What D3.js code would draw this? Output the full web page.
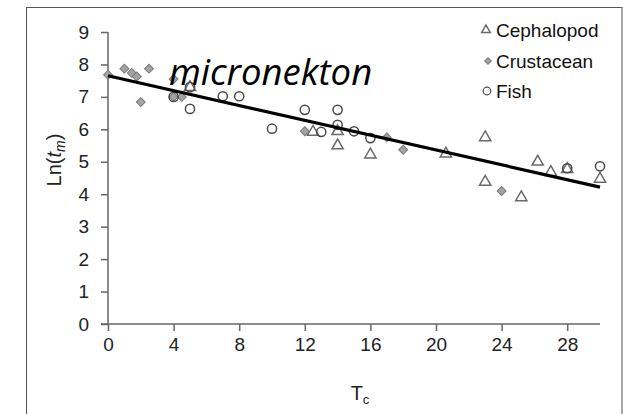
<!DOCTYPE html>
<html><head><meta charset="utf-8">
<script src="https://cdn.jsdelivr.net/npm/d3@7"></script>
<style>body{margin:0;background:#fff}svg{display:block}</style>
</head><body>
<script>
// ---- data ----
const cephX = [5.0, 12.5, 14, 14, 16, 20.6, 23, 23, 25.2, 26.2, 27, 28, 30];
const cephY = [7.3, 5.92, 5.94, 5.5, 5.22, 5.25, 5.75, 4.38, 3.9, 5.0, 4.68, 4.77, 4.47];
const crusX = [0, 1, 1.45, 1.75, 2.5, 2, 4, 4, 4.5, 12, 17, 18, 24];
const crusY = [7.68, 7.87, 7.74, 7.63, 7.87, 6.84, 7.55, 7.0, 7.0, 5.94, 5.75, 5.37, 4.1];
const fishX = [4, 5, 5, 7, 8, 10, 12, 13, 14, 14, 15, 16, 28, 30];
const fishY = [7.0, 7.3, 6.63, 7.02, 7.02, 6.02, 6.6, 5.92, 6.6, 6.14, 5.94, 5.73, 4.8, 4.86];
const fitX = [0, 30];
const fitY = [7.65, 4.22];
const xTicks = [0, 4, 8, 12, 16, 20, 24, 28];
const yTicks = [0, 1, 2, 3, 4, 5, 6, 7, 8, 9];
const seriesNames = ["Cephalopod", "Crustacean", "Fish"];

const W = 623, H = 414;
const svg = d3.select("body").append("svg").attr("width", W).attr("height", H);
const font = "'Liberation Sans', Arial, sans-serif";

// outer frame
svg.append("rect").attr("x", 26.5).attr("y", 7.5).attr("width", 595.5).attr("height", 420)
  .attr("fill", "none").attr("stroke", "#555").attr("stroke-width", 1);

const x = d3.scaleLinear().domain([0, 30]).range([108, 600]);
const y = d3.scaleLinear().domain([0, 9]).range([324, 32]);

// axes
const xAxis = svg.append("g").attr("transform", `translate(0,${y(0)})`)
  .call(d3.axisBottom(x).tickValues(xTicks).tickSize(7).tickPadding(7).tickFormat(d3.format("d")));
const yAxis = svg.append("g").attr("transform", `translate(${x(0)},0)`)
  .call(d3.axisLeft(y).tickValues(yTicks).tickSize(7).tickPadding(12).tickFormat(d3.format("d")));
[xAxis, yAxis].forEach(g => {
  g.select(".domain").attr("stroke", "#666").attr("stroke-width", 1.5);
  g.selectAll(".tick line").attr("stroke", "#666").attr("stroke-width", 1.5);
  g.selectAll(".tick text").attr("font-family", font).attr("font-size", 19).attr("fill", "#222");
});
xAxis.select(".domain").attr("d", `M${x(0) - 7},0H${x(30)}`);
yAxis.select(".domain").attr("d", `M0,${y(9)}V${y(0)}`);

// symbols
const tri = d3.symbol().type(d3.symbolTriangle);
const sq = d3.symbol().type(d3.symbolSquare);

function drawTri(g, px, py, size) {
  g.append("path").attr("d", tri.size(size)()).attr("transform", `translate(${px},${py})`)
    .attr("fill", "#fff").attr("stroke", "#6a6a6a").attr("stroke-width", 1.5);
}
function drawDia(g, px, py, size) {
  g.append("path").attr("d", sq.size(size)()).attr("transform", `translate(${px},${py}) rotate(45)`)
    .attr("fill", "#a3a3a3").attr("stroke", "#7a7a7a").attr("stroke-width", 1);
}
function drawCirc(g, px, py, r) {
  g.append("circle").attr("cx", px).attr("cy", py).attr("r", r)
    .attr("fill", "none").attr("stroke", "#4a4a4a").attr("stroke-width", 1.5);
}

const marks = svg.append("g");
cephX.forEach((v, i) => drawTri(marks, x(v), y(cephY[i]), 55));
crusX.forEach((v, i) => drawDia(marks, x(v), y(crusY[i]), 40));
fishX.forEach((v, i) => drawCirc(marks, x(v), y(fishY[i]), 4.6));

// regression line
svg.append("path").datum(fitX.map((v, i) => [v, fitY[i]]))
  .attr("d", d3.line().x(d => x(d[0])).y(d => y(d[1])))
  .attr("stroke", "#000").attr("stroke-width", 3.2).attr("fill", "none");

// annotation
svg.append("text").attr("x", 169).attr("y", 85).text("micronekton")
  .attr("font-family", "'Open Sans', sans-serif").attr("font-style", "italic")
  .attr("font-size", 36.5).attr("fill", "#000");

// legend
const leg = svg.append("g");
const legY = [30, 61, 91];
drawTri(leg, 486, legY[0], 32);
drawDia(leg, 488, legY[1], 22);
leg.append("circle").attr("cx", 487).attr("cy", legY[2]).attr("r", 3.8)
  .attr("fill", "none").attr("stroke", "#4a4a4a").attr("stroke-width", 1.2);
seriesNames.forEach((n, i) => {
  leg.append("text").attr("x", 496).attr("y", legY[i] + 7).text(n)
    .attr("font-family", font).attr("font-size", 19).attr("fill", "#111");
});

// axis titles
const xt = svg.append("text").attr("x", 360).attr("y", 400).attr("text-anchor", "middle")
  .attr("font-family", font).attr("font-size", 20).attr("fill", "#222");
xt.append("tspan").text("T");
xt.append("tspan").attr("font-size", 13).attr("dy", 4).text("c");

const yt = svg.append("text").attr("transform", "translate(61,160) rotate(-90)")
  .attr("text-anchor", "middle").attr("font-family", font).attr("font-size", 20).attr("fill", "#222");
yt.append("tspan").text("Ln(");
yt.append("tspan").attr("font-style", "italic").text("t");
yt.append("tspan").attr("font-style", "italic").attr("font-size", 14).attr("dy", 4).text("m");
yt.append("tspan").attr("dy", -4).text(")");
</script>
</body></html>
